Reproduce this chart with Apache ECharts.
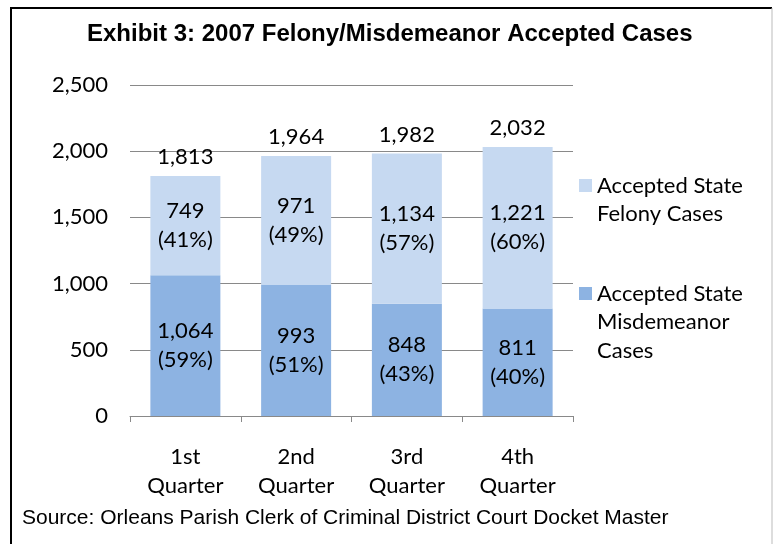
<!DOCTYPE html>
<html>
<head>
<meta charset="utf-8">
<script src="https://cdn.jsdelivr.net/npm/echarts@6/dist/echarts.min.js"></script>
<style>
  html, body { margin: 0; padding: 0; background: #fff; }
  #chart { width: 778px; height: 544px; }
</style>
</head>
<body>
<div id="chart"></div>
<script>
// data read from the exhibit
var quarters = ['1st\nQuarter', '2nd\nQuarter', '3rd\nQuarter', '4th\nQuarter'];
var misdemeanor = [1064, 993, 848, 811];
var felony = [749, 971, 1134, 1221];
var totals = [1813, 1964, 1982, 2032];
var yTicks = { min: 0, max: 2500, interval: 500 };

var nameFel = 'Accepted State Felony Cases';
var nameMis = 'Accepted State Misdemeanor Cases';
// legend wrapping; leading blank lines keep the first line level with the swatch
var legendText = {};
legendText[nameFel] = ' \nAccepted State\nFelony Cases';
legendText[nameMis] = ' \n \nAccepted State\nMisdemeanor\nCases';

var cal = 'Lato, "Open Sans", sans-serif';
var lh = 28.5;

function commas(v) {
    return String(v).replace(/\B(?=(\d{3})+(?!\d))/g, ',');
}
function pctLabel(arr) {
    return function (p) {
        var i = p.dataIndex;
        var pct = Math.round(arr[i] / (felony[i] + misdemeanor[i]) * 100);
        return commas(arr[i]) + '\n(' + pct + '%)';
    };
}

var myChart = echarts.init(document.getElementById('chart'));

var legendBase = {
    orient: 'vertical', left: 579, padding: 0,
    itemWidth: 13, itemHeight: 13, icon: 'rect',
    formatter: function (n) { return legendText[n]; },
    textStyle: { fontFamily: cal, fontSize: 22, lineHeight: lh, color: '#000' }
};

var option = {
    animation: false,
    backgroundColor: '#fff',
    title: [{
        text: 'Exhibit 3: 2007 Felony/Misdemeanor Accepted Cases',
        left: 87, top: 22, padding: 0,
        textStyle: { fontFamily: '"Liberation Sans", Arial, sans-serif', fontWeight: 'bold', fontSize: 24, color: '#000' }
    }, {
        text: 'Source: Orleans Parish Clerk of Criminal District Court Docket Master',
        left: 22, top: 508, padding: 0,
        textStyle: { fontFamily: '"Liberation Sans", Arial, sans-serif', fontWeight: 'normal', fontSize: 21, color: '#000' }
    }],
    legend: [
        Object.assign({ data: [nameFel], top: 179 - 36.25 }, legendBase),
        Object.assign({ data: [nameMis], top: 287 - 64.75 }, legendBase)
    ],
    grid: { left: 130, right: 205, top: 85, bottom: 128, containLabel: false },
    xAxis: {
        type: 'category',
        data: quarters,
        axisLine: { lineStyle: { color: '#898989', width: 1 } },
        axisTick: { show: true, length: 6, lineStyle: { color: '#898989' } },
        axisLabel: { margin: 27, fontFamily: cal, fontSize: 22, lineHeight: lh, color: '#000' }
    },
    yAxis: {
        type: 'value',
        min: yTicks.min, max: yTicks.max, interval: yTicks.interval,
        axisLine: { show: false },
        axisTick: { show: false },
        splitLine: { lineStyle: { color: '#898989', width: 1 } },
        axisLabel: { margin: 22, fontFamily: cal, fontSize: 22, color: '#000', formatter: commas }
    },
    series: [{
        name: nameMis,
        type: 'bar',
        stack: 'cases',
        barWidth: 70,
        data: misdemeanor,
        itemStyle: { color: '#8DB3E2' },
        label: { show: true, position: 'inside', formatter: pctLabel(misdemeanor),
            fontFamily: cal, fontSize: 22, lineHeight: 29, color: '#000' }
    }, {
        name: nameFel,
        type: 'bar',
        stack: 'cases',
        barWidth: 70,
        data: felony,
        itemStyle: { color: '#C6D9F1' },
        label: { show: true, position: 'inside', formatter: pctLabel(felony),
            fontFamily: cal, fontSize: 22, lineHeight: 29, color: '#000' }
    }, {
        name: 'Total',
        type: 'bar',
        barWidth: 70,
        barGap: '-100%',
        data: totals,
        z: 1,
        itemStyle: { color: 'rgba(0,0,0,0)' },
        label: { show: true, position: 'top', distance: 8,
            formatter: function (p) { return commas(p.value); },
            fontFamily: cal, fontSize: 22, color: '#000' }
    }],
    graphic: [
        { type: 'line', shape: { x1: 11, y1: 8, x2: 772, y2: 8 }, style: { stroke: '#000', lineWidth: 2 } },
        { type: 'line', shape: { x1: 11, y1: 7, x2: 11, y2: 544 }, style: { stroke: '#000', lineWidth: 2 } },
        { type: 'line', shape: { x1: 772, y1: 8, x2: 772, y2: 544 }, style: { stroke: '#bbbbbb', lineWidth: 1 } }
    ]
};

myChart.setOption(option);
</script>
</body>
</html>
